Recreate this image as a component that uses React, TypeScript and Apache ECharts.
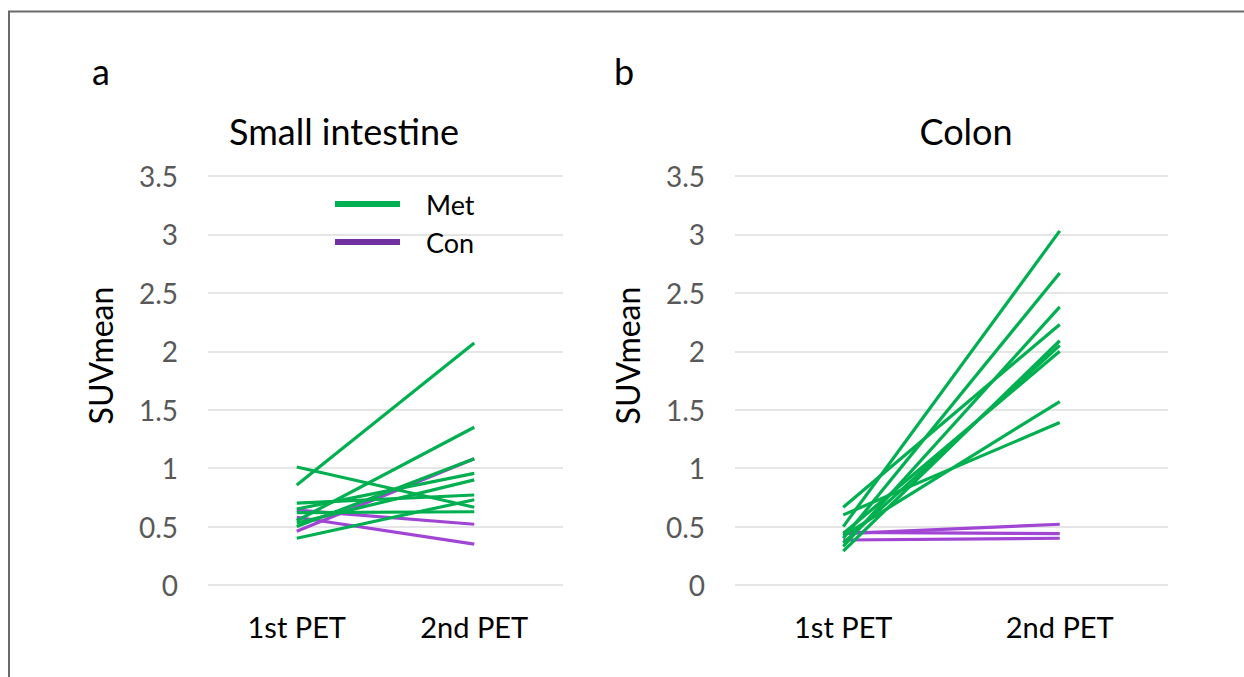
import React, { useEffect, useRef } from "react";
import * as echarts from "echarts";

// ---- data ----
const categories = ["1st PET", "2nd PET"];
const yTicks = [0, 0.5, 1, 1.5, 2, 2.5, 3, 3.5];

// Small intestine
const siMetFirst = [0.855, 1.01, 0.7, 0.62, 0.4, 0.55, 0.5, 0.65, 0.53];
const siMetSecond = [2.07, 0.665, 0.77, 0.627, 0.73, 1.35, 1.08, 0.955, 0.9];
const siConFirst = [0.46, 0.64, 0.58];
const siConSecond = [1.08, 0.52, 0.35];

// Colon
const coMetFirst = [0.5, 0.4, 0.33, 0.665, 0.29, 0.36, 0.44, 0.42, 0.6];
const coMetSecond = [3.03, 2.67, 2.38, 2.23, 2.09, 2.05, 2.0, 1.57, 1.39];
const coConFirst = [0.44, 0.45, 0.385];
const coConSecond = [0.52, 0.44, 0.4];

const panelLetters = ["a", "b"];
const panelTitles = ["Small intestine", "Colon"];
const groupNames = ["Met", "Con"];

const GREEN = "#00b050";
const PURPLE = "#a145d4";
const LEGEND_PURPLE = "#7030a0";
const FONT = "Lato, 'Open Sans', sans-serif";

function pairSeries(first: number[], second: number[], name: string, color: string, axis: number) {
  return first.map((v, i) => ({
    type: "line",
    name,
    xAxisIndex: axis,
    yAxisIndex: axis,
    data: [v, second[i]],
    symbol: "none",
    silent: true,
    lineStyle: { color, width: 3.2 },
    itemStyle: { color },
    z: name === "Met" ? 3 : 2,
  }));
}

export default function App() {
  const ref = useRef<HTMLDivElement>(null);
  useEffect(() => {
    if (!ref.current) return;
    const chart = echarts.init(ref.current, undefined, { renderer: "svg" });
    const grids = [
      { left: 208, top: 176, width: 355, height: 409 },
      { left: 735, top: 176, width: 433, height: 409 },
    ];
    const yAxisCfg = (i: number) => ({
      type: "value",
      gridIndex: i,
      min: yTicks[0],
      max: yTicks[yTicks.length - 1],
      interval: 0.5,
      axisLine: { show: false },
      axisTick: { show: false },
      splitLine: { show: true, lineStyle: { color: "#dcdcdc", width: 1.5 } },
      axisLabel: { color: "#595959", fontSize: 28, fontFamily: FONT, margin: 30 },
      name: "SUVmean",
      nameLocation: "middle",
      nameRotate: 90,
      nameGap: 92,
      nameTextStyle: {
        color: "#000",
        fontSize: 32,
        fontFamily: FONT,
        padding: [0, 0, 0, 50],
      },
    });
    const xAxisCfg = (i: number) => ({
      type: "category",
      gridIndex: i,
      data: categories,
      boundaryGap: true,
      axisLine: { show: false },
      axisTick: { show: false },
      splitLine: { show: false },
      axisLabel: { color: "#000", fontSize: 29, fontFamily: FONT, margin: 27 },
    });
    chart.setOption({
      animation: false,
      backgroundColor: "#fff",
      grid: grids,
      xAxis: [xAxisCfg(0), xAxisCfg(1)],
      yAxis: [yAxisCfg(0), yAxisCfg(1)],
      legend: {
        orient: "vertical",
        left: 335,
        top: 189,
        padding: 0,
        icon: "rect",
        itemWidth: 65,
        itemHeight: 6,
        itemGap: 8,
        selectedMode: false,
        textStyle: { color: "#000", fontSize: 27, fontFamily: FONT, lineHeight: 30, padding: [0, 0, 0, 21] },
        data: [
          { name: groupNames[0], itemStyle: { color: GREEN }, lineStyle: { color: GREEN } },
          { name: groupNames[1], itemStyle: { color: LEGEND_PURPLE }, lineStyle: { color: LEGEND_PURPLE } },
        ],
      },
      graphic: [
        {
          type: "polyline",
          shape: { points: [[9, 677], [9, 11.5], [1244, 11.5]] },
          style: { stroke: "#6a6a6a", lineWidth: 2, fill: null },
          silent: true,
        },
        {
          type: "text",
          x: 101,
          y: 71,
          style: { text: panelLetters[0], fontSize: 36, fontFamily: FONT, fill: "#000", textAlign: "center", textVerticalAlign: "middle" },
        },
        {
          type: "text",
          x: 624,
          y: 71,
          style: { text: panelLetters[1], fontSize: 36, fontFamily: FONT, fill: "#000", textAlign: "center", textVerticalAlign: "middle" },
        },
        {
          type: "text",
          x: 344,
          y: 131,
          style: { text: panelTitles[0], fontSize: 36, fontFamily: FONT, fill: "#000", textAlign: "center", textVerticalAlign: "middle" },
        },
        {
          type: "text",
          x: 966,
          y: 131,
          style: { text: panelTitles[1], fontSize: 36, fontFamily: FONT, fill: "#000", textAlign: "center", textVerticalAlign: "middle" },
        },
      ],
      series: [
        ...pairSeries(siConFirst, siConSecond, groupNames[1], PURPLE, 0),
        ...pairSeries(siMetFirst, siMetSecond, groupNames[0], GREEN, 0),
        ...pairSeries(coConFirst, coConSecond, groupNames[1], PURPLE, 1),
        ...pairSeries(coMetFirst, coMetSecond, groupNames[0], GREEN, 1),
      ],
    });
    return () => chart.dispose();
  }, []);
  return (
    <div
      ref={ref}
      style={{ position: "absolute", left: 0, top: 0, width: 1244, height: 677 }}
    />
  );
}
